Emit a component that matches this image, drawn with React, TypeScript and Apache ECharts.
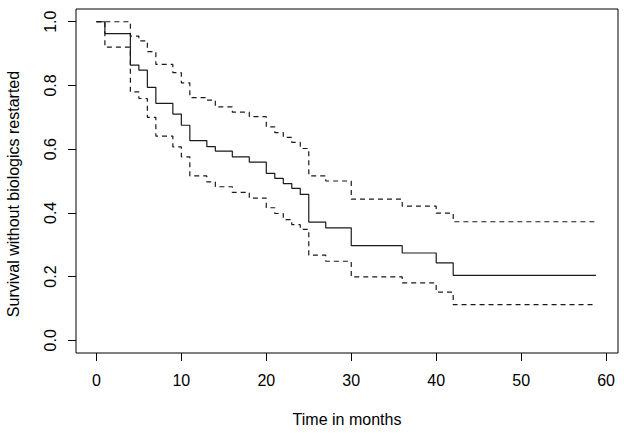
import React, { useEffect, useRef } from "react";
import * as echarts from "echarts";

// Kaplan-Meier estimate and 95% confidence limits (step functions)
const stepTimes = [0, 1, 4, 5, 6, 7, 9, 10, 11, 13, 14, 16, 18, 20, 21, 22, 23, 24, 25, 27, 30, 36, 40, 42, 58.8];
const survival = [1.0, 0.963, 0.864, 0.848, 0.794, 0.744, 0.71, 0.675, 0.627, 0.608, 0.594, 0.576, 0.559, 0.524, 0.508, 0.492, 0.477, 0.458, 0.371, 0.353, 0.297, 0.274, 0.243, 0.204, 0.204];
const upperCI = [1.0, 1.0, 0.955, 0.94, 0.906, 0.866, 0.84, 0.808, 0.762, 0.754, 0.733, 0.716, 0.702, 0.67, 0.652, 0.637, 0.621, 0.602, 0.516, 0.5, 0.443, 0.421, 0.399, 0.372, 0.372];
const lowerCI = [1.0, 0.92, 0.78, 0.759, 0.7, 0.641, 0.607, 0.576, 0.516, 0.497, 0.482, 0.464, 0.446, 0.416, 0.398, 0.379, 0.363, 0.348, 0.267, 0.248, 0.199, 0.18, 0.151, 0.112, 0.112];

const xTicks = [0, 10, 20, 30, 40, 50, 60];
const yTicks = [0, 0.2, 0.4, 0.6, 0.8, 1.0];

const xTitle = "Time in months";
const yTitle = "Survival without biologics restarted";

const FONT = "'Liberation Sans', Arial, Helvetica, sans-serif";

function pairs(xs: number[], ys: number[]) {
  return xs.map((x, i) => [x, ys[i]]);
}

export default function App() {
  const ref = useRef<HTMLDivElement>(null);
  useEffect(() => {
    document.body.style.margin = "0";
    const chart = echarts.init(ref.current!, null, { renderer: "svg" });
    const lineColor = "#1a1a1a";
    chart.setOption({
      animation: false,
      backgroundColor: "#ffffff",
      grid: {
        show: true,
        left: 76,
        right: 6,
        top: 9,
        bottom: 80,
        borderColor: "#000",
        borderWidth: 1,
        backgroundColor: "transparent",
      },
      graphic: [
        {
          type: "text",
          x: 13,
          y: 194,
          rotation: Math.PI / 2,
          style: {
            text: yTitle,
            fill: "#000",
            fontSize: 16,
            fontFamily: FONT,
            textAlign: "center",
            textVerticalAlign: "middle",
          },
        },
      ],
      xAxis: {
        type: "value",
        min: -2.4,
        max: 61.4,
        axisLine: { show: false, onZero: false },
        splitLine: { show: false },
        axisTick: {
          show: true,
          inside: false,
          length: 8,
          customValues: xTicks,
          lineStyle: { color: "#000", width: 1 },
        },
        axisLabel: {
          customValues: xTicks,
          margin: 19,
          color: "#000",
          fontSize: 16,
          fontFamily: FONT,
          formatter: (v: number) => String(v),
        },
        name: xTitle,
        nameLocation: "middle",
        nameGap: 58,
        nameTextStyle: { color: "#000", fontSize: 16, fontFamily: FONT },
      },
      yAxis: {
        type: "value",
        min: -0.04,
        max: 1.04,
        axisLine: { show: false, onZero: false },
        splitLine: { show: false },
        axisTick: {
          show: true,
          inside: false,
          length: 8,
          customValues: yTicks,
          lineStyle: { color: "#000", width: 1 },
        },
        axisLabel: {
          customValues: yTicks,
          rotate: 90,
          margin: 18,
          color: "#000",
          fontSize: 16,
          fontFamily: FONT,
          formatter: (v: number) => v.toFixed(1),
        },
      },
      series: [
        {
          type: "line",
          step: "end",
          data: pairs(stepTimes, survival),
          showSymbol: false,
          lineStyle: { color: lineColor, width: 1.2, type: "solid" },
        },
        {
          type: "line",
          step: "end",
          data: pairs(stepTimes, upperCI),
          showSymbol: false,
          lineStyle: { color: lineColor, width: 1.2, type: [5, 4] },
        },
        {
          type: "line",
          step: "end",
          data: pairs(stepTimes, lowerCI),
          showSymbol: false,
          lineStyle: { color: lineColor, width: 1.2, type: [5, 4] },
        },
      ],
    });
    return () => chart.dispose();
  }, []);
  return (
    <div
      ref={ref}
      style={{ position: "absolute", left: 0, top: 0, width: 624, height: 433 }}
    />
  );
}
